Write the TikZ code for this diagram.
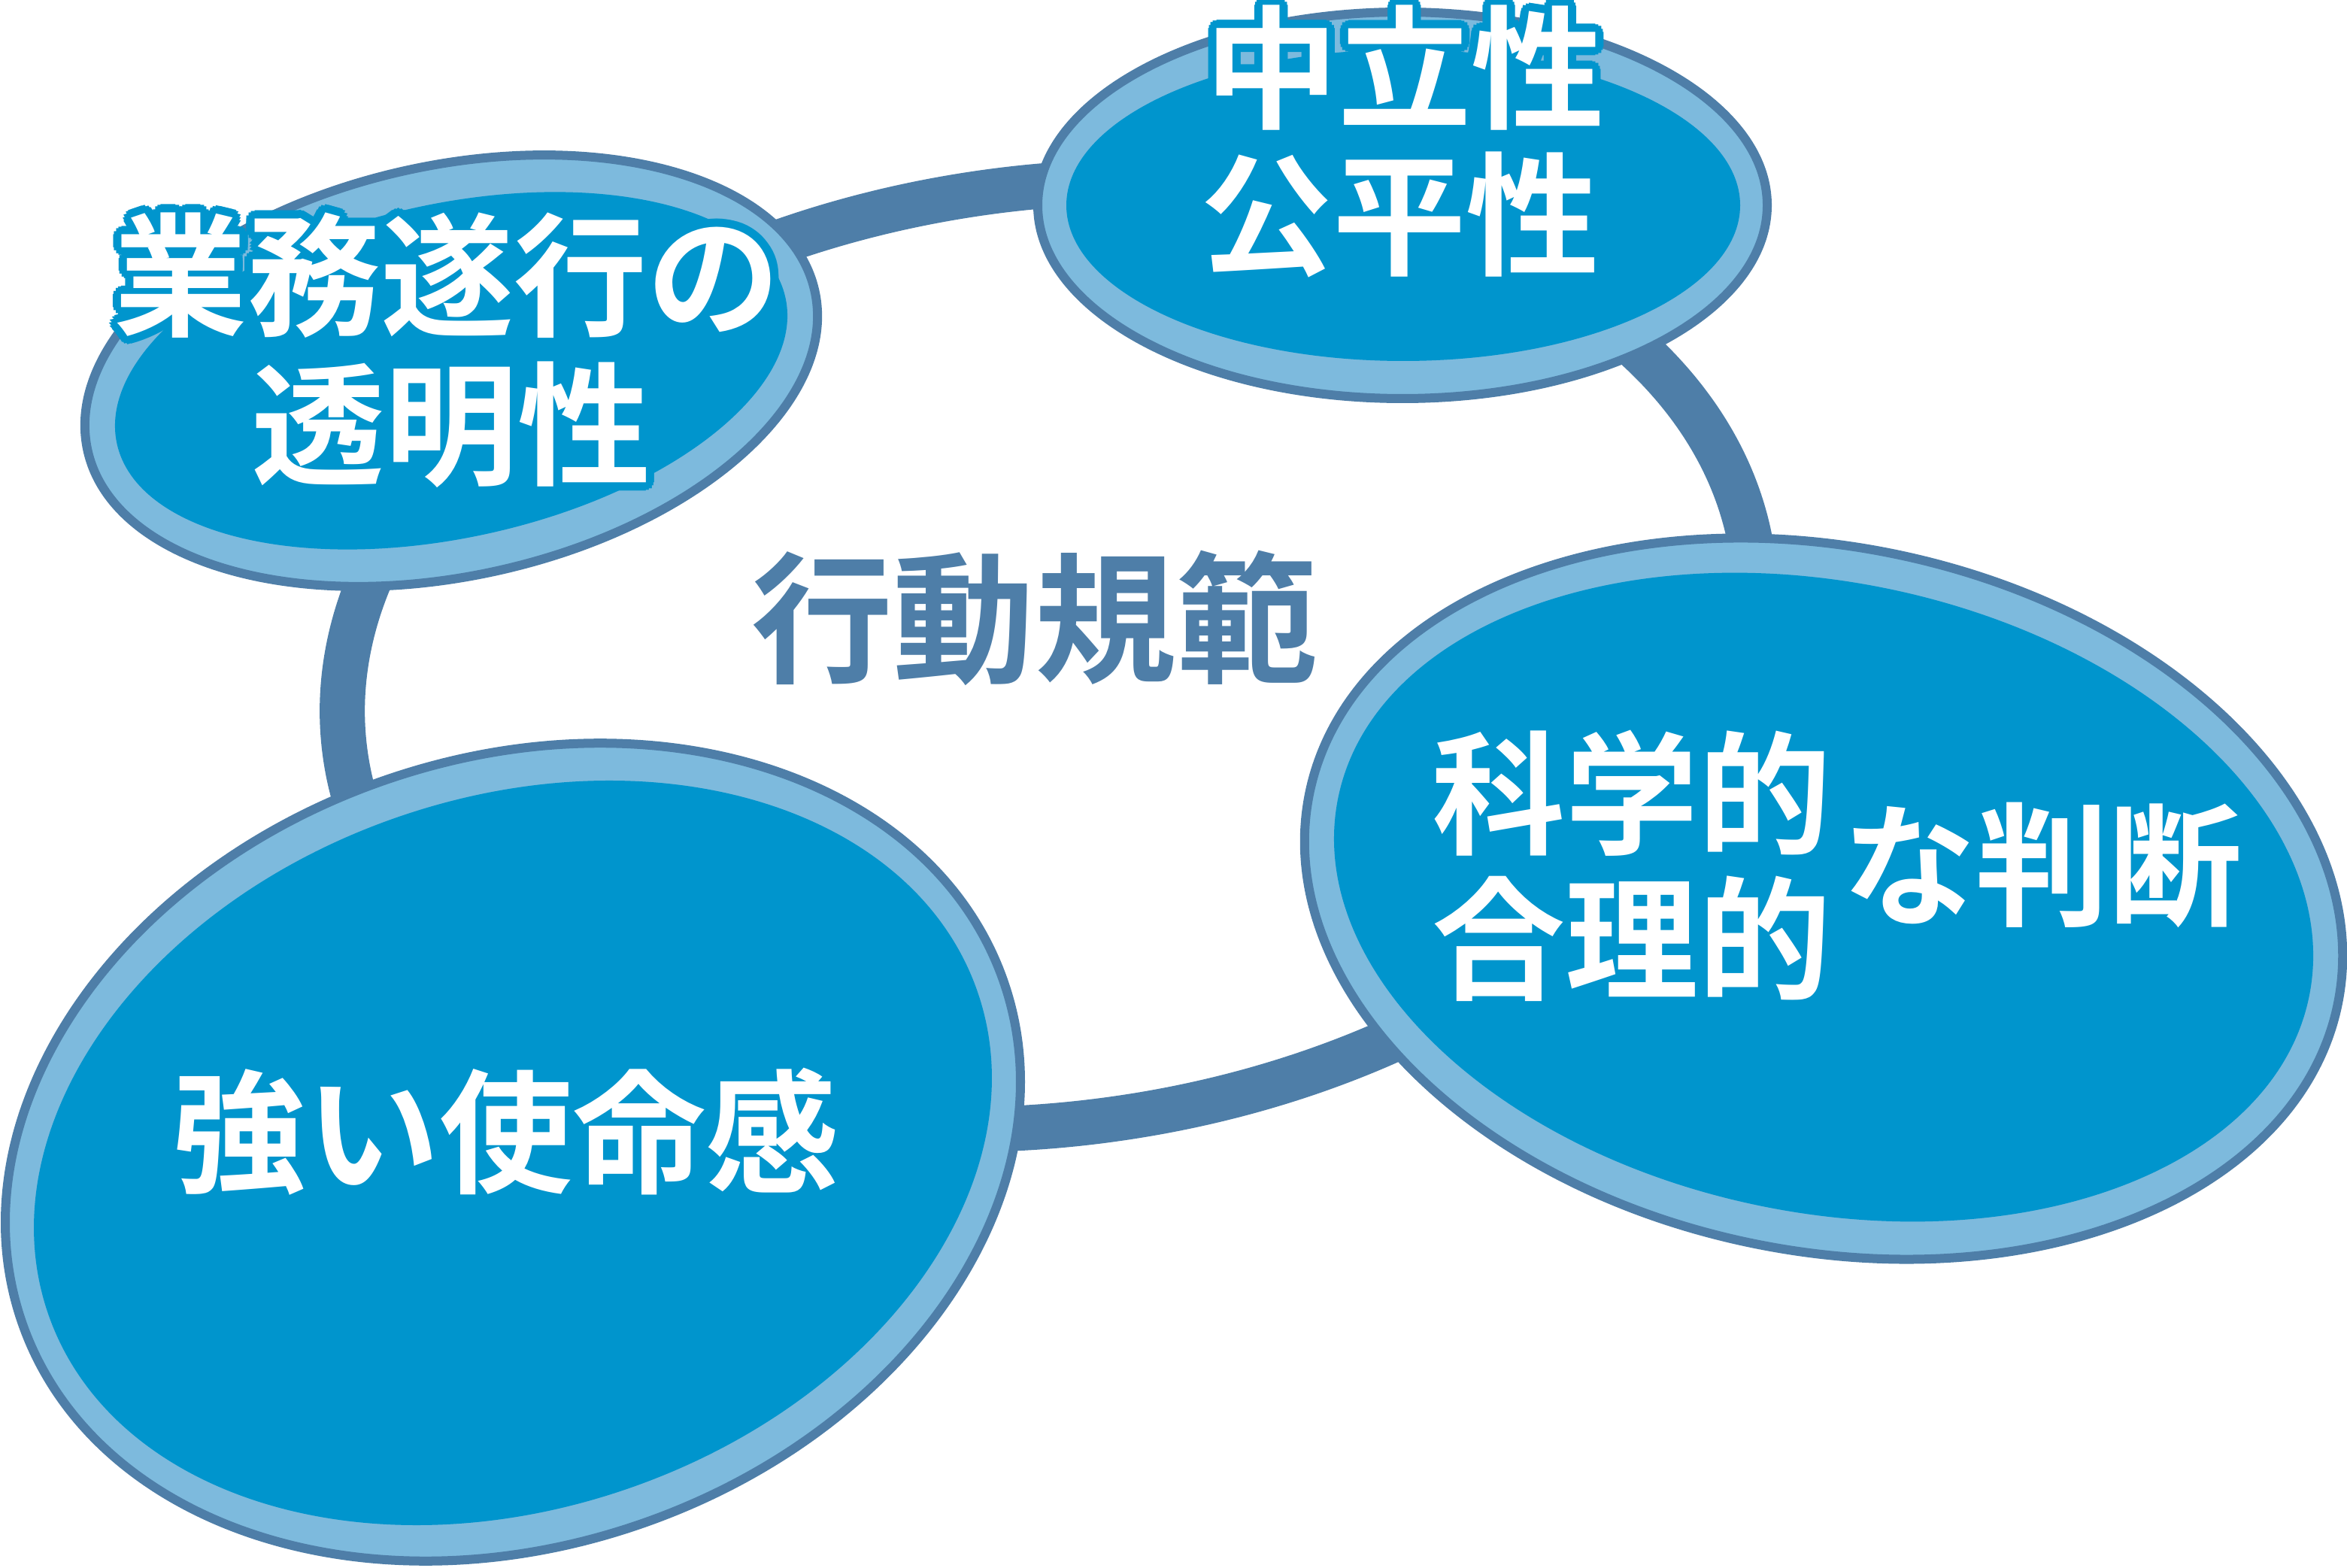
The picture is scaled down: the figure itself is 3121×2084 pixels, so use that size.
\documentclass[tikz,border=0pt]{standalone}
\usepackage{fontspec}
\newfontfamily\jp{Noto Sans CJK JP Bold}
\usetikzlibrary{calc}
\definecolor{ringc}{RGB}{78,126,168}
\definecolor{lightc}{RGB}{125,186,221}
\definecolor{fillc}{RGB}{0,149,205}
\newcommand\outlinedtext[3]{%
  \foreach \k in {1,...,16}{\node[btxt,text=fillc] (#1o\k) at ($(#2)+({\k*22.5}:11)$) {#3};}
  \node[btxt] (#1) at (#2) {#3};}
\begin{document}
\begin{tikzpicture}[x=0.01cm,y=0.01cm,
  ringline/.style={draw=ringc, line width=0.6cm},
  blobout/.style={fill=lightc, draw=ringc, line width=0.12cm},
  blobin/.style={fill=fillc},
  btxt/.style={font=\jp\fontsize{50.4pt}{50.4pt}\selectfont, inner sep=0pt,
    text height=44.35pt, text depth=6.05pt, text=white},
  ctxt/.style={font=\jp\fontsize{53.5pt}{53.5pt}\selectfont, inner sep=0pt,
    text height=47.08pt, text depth=6.42pt, text=ringc}]
\fill[white] (0,0) rectangle (3121,2084);
\useasboundingbox (0,0) rectangle (3121,2084);
% ring
\draw[ringline, rotate around={8:(1395,1212)}] (1395,1212) ellipse [x radius=945, y radius=622];
% blob A
\draw[blobout, rotate around={12.3:(600,1591)}] (600,1591) ellipse [x radius=495, y radius=273];
\fill[blobin, rotate around={12.3:(600,1591)}] (600,1591) ellipse [x radius=455, y radius=222];
% blob B
\draw[blobout] (1865,1811) ellipse [x radius=485, y radius=257];
\fill[blobin] (1866,1811) ellipse [x radius=448, y radius=207];
% blob C
\draw[blobout, rotate around={-11.6:(2425,889)}] (2425,889) ellipse [x radius=698, y radius=468];
\fill[blobin, rotate around={-11.6:(2425,891)}] (2425,891) ellipse [x radius=659, y radius=419];
% blob D
\draw[blobout, rotate around={19.2:(682,552)}] (682,552) ellipse [x radius=691, y radius=523];
\fill[blobin, rotate around={19.2:(682,551)}] (682,551) ellipse [x radius=654, y radius=472];
% texts
\outlinedtext{a1}{595,1718}{業務遂行の}
\outlinedtext{a2}{600,1520}{透明性}
\outlinedtext{b1}{1868,1994}{中立性}
\outlinedtext{b2}{1861,1799}{公平性}
\node[btxt] (c1) at (2170,1029) {科学的};
\node[btxt] (c2) at (2170,836) {合理的};
\node[btxt] (c3) at (2716,934) {な判断};
\node[btxt] (d1) at (673,579) {強い使命感};
\node[ctxt] (center) at (1376,1262) {行動規範};
\end{tikzpicture}
\end{document}
